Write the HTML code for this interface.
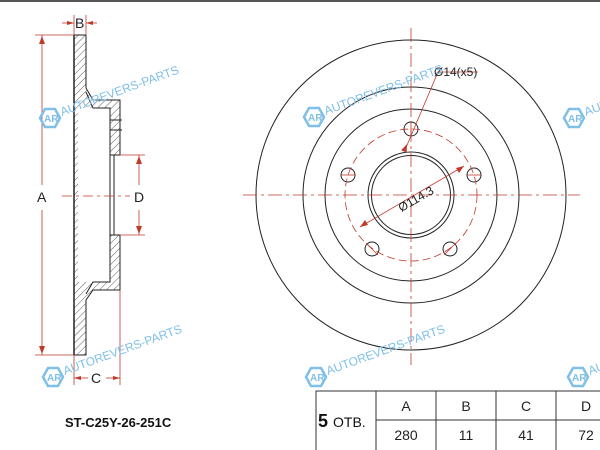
<!DOCTYPE html>
<html><head><meta charset="utf-8"><style>
html,body{margin:0;padding:0;background:#fff;width:600px;height:450px;overflow:hidden}
svg{display:block;font-family:"Liberation Sans",Arial,sans-serif}
</style></head><body>
<svg width="600" height="450" viewBox="0 0 600 450" xmlns="http://www.w3.org/2000/svg">
<defs>
<pattern id="h" width="5" height="5" patternUnits="userSpaceOnUse" patternTransform="rotate(45)">
<line x1="0" y1="0" x2="0" y2="5" stroke="#333" stroke-width="0.8"/></pattern>
<g id="wm"><polygon points="-10,0 -5,-9 5,-9 10,0 5,9 -5,9" fill="none" stroke="#7fbfe8" stroke-width="2.5"/>
<text x="-6" y="4" font-size="10" fill="#7fbfe8" font-weight="bold">AR</text>
<text x="12" y="-2" font-size="12" fill="#7fbfe8" transform="rotate(-20 12 -2)">AUTOREVERS-PARTS</text></g>
</defs>
<line x1="0" y1="1" x2="600" y2="1" stroke="#555" stroke-width="2"/>
<g stroke="#222" stroke-width="1">
<path d="M74,35 H86 V88 L93,100 H120 V155 H110 V235 H120 V290 H93 L86,300 V355 H74 Z" fill="url(#h)"/>
<path d="M78,108 H110 V282 H78 Z" fill="#fff" stroke="none"/>
<path d="M74,35 V355" stroke-width="1.5"/>
<path d="M86,92 L93,108 H110 V282 H93 L86,294" fill="none"/>
<line x1="110" y1="120" x2="122" y2="120"/><line x1="110" y1="130" x2="122" y2="130"/>
<line x1="114" y1="155" x2="114" y2="235"/>
</g>
<g stroke="#c0392b" stroke-width="0.8" fill="#c0392b">
<line x1="35" y1="35" x2="74" y2="35"/><line x1="35" y1="355" x2="74" y2="355"/>
<line x1="42" y1="35" x2="42" y2="185"/><line x1="42" y1="210" x2="42" y2="355"/>
<polygon points="42,36 39,44 45,44" stroke="none"/><polygon points="42,354 39,346 45,346" stroke="none"/>
<line x1="120" y1="155" x2="145" y2="155"/><line x1="120" y1="235" x2="145" y2="235"/>
<line x1="139" y1="155" x2="139" y2="185"/><line x1="139" y1="210" x2="139" y2="235"/>
<polygon points="139,156 136,164 142,164" stroke="none"/><polygon points="139,234 136,226 142,226" stroke="none"/>
<line x1="62" y1="196" x2="130" y2="196" stroke-dasharray="10,4,3,4"/>
<line x1="74" y1="15" x2="74" y2="35"/><line x1="86" y1="15" x2="86" y2="35"/>
<line x1="62" y1="23" x2="74" y2="23"/><line x1="86" y1="23" x2="97" y2="23"/>
<polygon points="74,23 67,21 67,25" stroke="none"/><polygon points="86,23 93,21 93,25" stroke="none"/>
<line x1="74" y1="355" x2="74" y2="385"/><line x1="120" y1="290" x2="120" y2="385"/>
<line x1="74" y1="378" x2="88" y2="378"/><line x1="106" y1="378" x2="120" y2="378"/>
<polygon points="74,378 81,376 81,380" stroke="none"/><polygon points="120,378 113,376 113,380" stroke="none"/>
</g>
<g font-size="14" fill="#222">
<text x="37" y="202">A</text><text x="134" y="202">D</text>
<text x="75" y="28">B</text><text x="91" y="383">C</text>
</g>
<text x="65" y="427" font-size="13" font-weight="bold" fill="#111">ST-C25Y-26-251C</text>
<g fill="none" stroke="#222" stroke-width="1">
<circle cx="411" cy="195" r="155"/>
<circle cx="411" cy="195" r="108"/>
<circle cx="411" cy="195" r="86"/>
<circle cx="411" cy="195" r="43"/>
<circle cx="411" cy="195" r="39.5"/>
<circle cx="411" cy="129" r="7"/>
<circle cx="474" cy="175" r="7"/>
<circle cx="450" cy="249" r="7"/>
<circle cx="372" cy="249" r="7"/>
<circle cx="348" cy="175" r="7"/>
</g>
<g fill="none" stroke="#c0392b" stroke-width="0.8">
<circle cx="411" cy="195" r="66" stroke-dasharray="8,4"/>
<line x1="411" y1="28" x2="411" y2="365" stroke-dasharray="14,4,3,4"/>
<line x1="243" y1="195" x2="580" y2="195" stroke-dasharray="14,4,3,4"/>
<line x1="464" y1="166" x2="360" y2="227"/>
<line x1="438" y1="72" x2="405" y2="150"/>
<line x1="438" y1="72" x2="478" y2="72"/>
<line x1="341" y1="175" x2="355" y2="175"/><line x1="467" y1="175" x2="481" y2="175"/>
<line x1="411" y1="122" x2="411" y2="136"/>
<line x1="366" y1="243" x2="378" y2="255"/><line x1="444" y1="255" x2="456" y2="243"/>
</g>
<g fill="#c0392b"><polygon points="464,166 456,168 459,173"/><polygon points="360,227 368,225 365,220"/>
<polygon points="407,144 404,152 410,152" transform="rotate(23 407 144)"/></g>
<text x="394" y="205" font-size="12" fill="#222" transform="rotate(-30 411 195)">Ø114.3</text>
<text x="434" y="76" font-size="12" fill="#222">Ø14(x5)</text>
<g stroke="#333" stroke-width="1" fill="none">
<rect x="316" y="391" width="300" height="70"/>
<line x1="376" y1="391" x2="376" y2="450"/><line x1="436" y1="391" x2="436" y2="450"/>
<line x1="496" y1="391" x2="496" y2="450"/><line x1="556" y1="391" x2="556" y2="450"/>
<line x1="376" y1="420" x2="616" y2="420"/>
</g>
<g font-size="14" fill="#222" text-anchor="middle">
<text x="406" y="411">A</text><text x="466" y="411">B</text><text x="526" y="411">C</text><text x="586" y="411">D</text>
<text x="406" y="440">280</text><text x="466" y="440">11</text><text x="526" y="440">41</text><text x="586" y="440">72</text>
</g>
<text x="318" y="427" font-size="18" font-weight="bold" fill="#111">5 <tspan font-size="14" font-weight="normal">ОТВ.</tspan></text>
<use href="#wm" x="50" y="118"/>
<use href="#wm" x="53" y="377"/>
<use href="#wm" x="314" y="117"/>
<use href="#wm" x="316" y="377"/>
<use href="#wm" x="574" y="118"/>
<use href="#wm" x="578" y="377"/>
</svg>
</body></html>
